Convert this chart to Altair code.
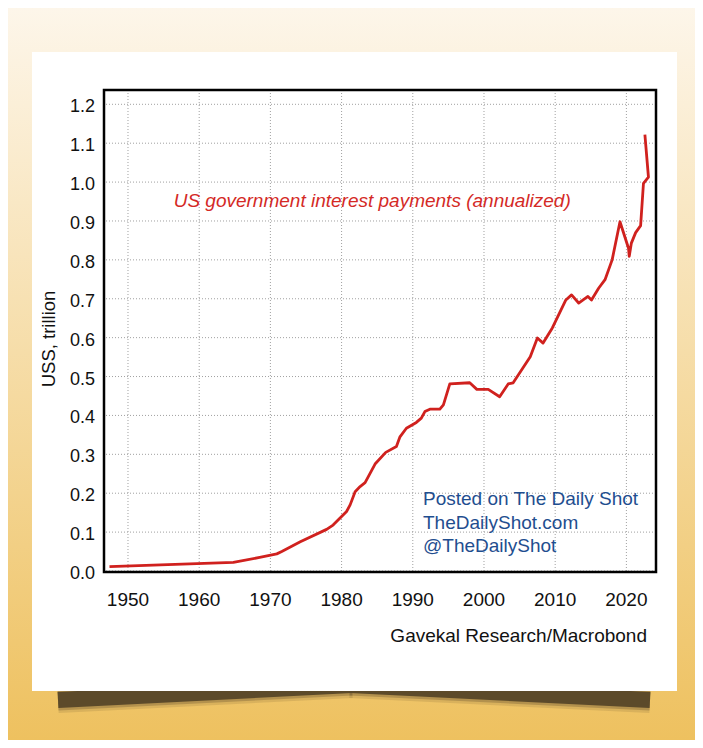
import altair as alt
import pandas as pd

# ---- data ----
years = [1947.4, 1964.8, 1968.5, 1970.9, 1971.6, 1974.2, 1977.9, 1978.8, 1980.7, 1981.2,
         1981.9, 1982.6, 1983.3, 1984.7, 1986.2, 1987.7, 1988.2, 1989.1, 1990.5, 1991.2,
         1991.7, 1992.4, 1993.8, 1994.3, 1995.2, 1998.0, 1999.0, 2000.6, 2002.2, 2003.4,
         2004.1, 2006.5, 2007.5, 2008.3, 2009.6, 2011.5, 2012.3, 2013.3, 2014.6, 2015.1,
         2016.1, 2017.0, 2018.0, 2019.1, 2020.3, 2020.4, 2020.7, 2021.3, 2022.0, 2022.4,
         2023.1, 2022.6]
values = [0.011, 0.022, 0.035, 0.044, 0.050, 0.075, 0.107, 0.118, 0.153, 0.170,
          0.204, 0.217, 0.227, 0.275, 0.305, 0.320, 0.345, 0.367, 0.382, 0.393,
          0.410, 0.416, 0.416, 0.427, 0.481, 0.484, 0.467, 0.467, 0.448, 0.481,
          0.484, 0.551, 0.599, 0.586, 0.625, 0.697, 0.710, 0.689, 0.706, 0.697,
          0.727, 0.749, 0.800, 0.898, 0.830, 0.809, 0.843, 0.870, 0.888, 0.997,
          1.013, 1.122]
x_ticks = [1950, 1960, 1970, 1980, 1990, 2000, 2010, 2020]
y_ticks = [0.0, 0.1, 0.2, 0.3, 0.4, 0.5, 0.6, 0.7, 0.8, 0.9, 1.0, 1.1, 1.2]
series_label = "US government interest payments (annualized)"
y_title = "USS, trillion"
source_text = "Gavekal Research/Macrobond"
note_lines = ["Posted on The Daily Shot", "TheDailyShot.com", "@TheDailyShot"]

# ---- layout / style ----
W, H = 552, 482
PAD_L, PAD_T = 96, 82
CANVAS_W, CANVAS_H = 687, 732
FONT = "Liberation Sans, Arial, Helvetica, sans-serif"
RED = "#D0211E"
BLUE = "#1F4E8F"
SHADOW = "#5C4A2A"
INK = "#111111"

df = pd.DataFrame({"year": years, "value": values, "i": list(range(len(years)))})
xt = pd.DataFrame({"t": x_ticks})
yt = pd.DataFrame({"t": y_ticks})
one = alt.Data(values=[{"k": 0}])

xscale = alt.Scale(domain=[1946.63, 2024.16], nice=False, zero=False)
yscale = alt.Scale(domain=[-0.0026, 1.2368], nice=False, zero=False)

gradient = {"gradient": "linear", "x1": 0, "x2": 0, "y1": 0, "y2": 1,
            "stops": [{"offset": 0, "color": "#FDF6EA"},
                      {"offset": 1, "color": "#EEC15F"}]}

bg = alt.Chart(one).mark_rect(fill=gradient).encode(
    x=alt.value(-PAD_L), x2=alt.value(CANVAS_W - PAD_L),
    y=alt.value(-PAD_T), y2=alt.value(CANVAS_H - PAD_T))


def shadow(x1, y1, x2, y2, w, op):
    return alt.Chart(one).mark_rule(color=SHADOW, strokeWidth=w, opacity=op,
                                    strokeCap="butt").encode(
        x=alt.value(x1), y=alt.value(y1), x2=alt.value(x2), y2=alt.value(y2))


shadows = []
for w, op in [(26, 0.15), (21, 0.3), (16, 1.0)]:
    shadows.append(shadow(-46, 610, 248, 595, w, op))
    shadows.append(shadow(246, 595, 546, 610, w, op))

card = alt.Chart(one).mark_rect(fill="white").encode(
    x=alt.value(-72), x2=alt.value(573), y=alt.value(-38), y2=alt.value(601))

xgrid = alt.Chart(xt).mark_rule(
    color="#A0A0A0", strokeWidth=1, strokeDash=[1, 2]).encode(
    x=alt.X("t:Q", scale=xscale, axis=None))
ygrid = alt.Chart(yt).mark_rule(
    color="#A0A0A0", strokeWidth=1, strokeDash=[1, 2]).encode(
    y=alt.Y("t:Q", scale=yscale, axis=None))

xlabels = alt.Chart(xt).mark_text(
    font=FONT, fontSize=19, color=INK, align="center", baseline="alphabetic").encode(
    x=alt.X("t:Q", scale=xscale, axis=None),
    y=alt.value(H + 34),
    text=alt.Text("t:Q", format="d"))
ylabels = alt.Chart(yt).mark_text(
    font=FONT, fontSize=18, color=INK, align="right", baseline="alphabetic", dy=8).encode(
    y=alt.Y("t:Q", scale=yscale, axis=None),
    x=alt.value(-9),
    text=alt.Text("t:Q", format=".1f"))
ytitle = alt.Chart(one).mark_text(
    text=y_title, font=FONT, fontSize=18.5, color=INK, angle=270,
    align="center", baseline="middle").encode(x=alt.value(-55), y=alt.value(249))

line = alt.Chart(df).mark_line(color=RED, strokeWidth=2.8, strokeJoin="round").encode(
    x=alt.X("year:Q", scale=xscale, axis=None),
    y=alt.Y("value:Q", scale=yscale, axis=None),
    order=alt.Order("i:Q"))

label = alt.Chart(one).mark_text(
    text=series_label, font=FONT, fontSize=19, fontStyle="italic", color="#D42A26",
    align="center", baseline="alphabetic").encode(
    x=alt.XDatum(1984.3, type="quantitative", scale=xscale, axis=None),
    y=alt.YDatum(0.937, type="quantitative", scale=yscale, axis=None))

source = alt.Chart(one).mark_text(
    text=source_text, font=FONT, fontSize=19, color=INK,
    align="right", baseline="alphabetic").encode(x=alt.value(543), y=alt.value(552))

notes = []
for k, txt in enumerate(note_lines):
    notes.append(alt.Chart(one).mark_text(
        text=txt, font=FONT, fontSize=19, color=BLUE,
        align="left", baseline="alphabetic").encode(
        x=alt.value(319), y=alt.value(415 + 23.5 * k)))

border = alt.Chart(one).mark_rect(fill="transparent", stroke="#000000", strokeWidth=2.5).encode(
    x=alt.value(0), x2=alt.value(W), y=alt.value(0), y2=alt.value(H))

chart = alt.layer(
    bg, *shadows, card, xgrid, ygrid, line, label, source, *notes,
    xlabels, ylabels, ytitle, border
).properties(
    width=W, height=H,
    padding={"left": PAD_L, "top": PAD_T,
             "right": CANVAS_W - PAD_L - W, "bottom": CANVAS_H - PAD_T - H},
    autosize=alt.AutoSizeParams(type="none"),
).configure_view(strokeWidth=0).configure(background="white")

chart.save("out.html", embed_options={"renderer": "svg", "actions": False})
